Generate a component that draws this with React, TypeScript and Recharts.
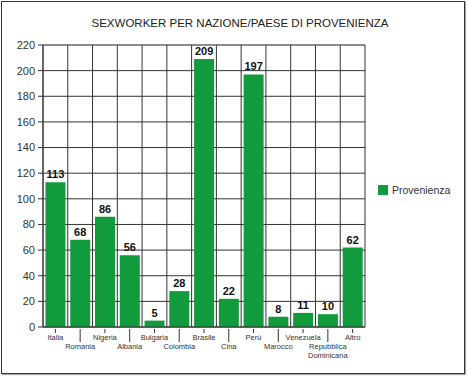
import React from "react";
import { BarChart, Bar, XAxis, YAxis, CartesianGrid, LabelList } from "recharts";

const categories = [
  "Italia", "Romania", "Nigeria", "Albania", "Bulgaria", "Colombia", "Brasile",
  "Cina", "Perù", "Marocco", "Venezuela", "Repubblica Dominicana", "Altro",
];
const provenienza = [113, 68, 86, 56, 5, 28, 209, 22, 197, 8, 11, 10, 62];
const majorTicks = [0, 20, 40, 60, 80, 100, 120, 140, 160, 180, 200, 220];
const minorTicks = [10, 30, 50, 70, 90, 110, 130, 150, 170, 190, 210];

const title = "SEXWORKER PER NAZIONE/PAESE DI PROVENIENZA";
const seriesName = "Provenienza";

const data = categories.map((c, i) => ({ name: c, value: provenienza[i] }));

const GREEN = "#119b3c";
const FONT = "'Liberation Sans', Arial, sans-serif";

const XTick = (props: any) => {
  const { x, y, payload, index } = props;
  const lower = index % 2 === 1;
  const lines = String(payload.value).split(" ");
  const lineLen = lower ? 13 : 4;
  const textY = lower ? y + 20 : y + 11;
  return (
    <g>
      <line x1={x} x2={x} y1={y} y2={y + lineLen} stroke="#333" strokeWidth={1} />
      <text x={x} y={textY} textAnchor="middle" fontSize={7.5} fill="#333" fontFamily={FONT}>
        {lines.map((l, k) => (
          <tspan key={k} x={x} dy={k === 0 ? 0 : 9}>{l}</tspan>
        ))}
      </text>
    </g>
  );
};

const verticalGen = ({ offset }: any) => {
  const n = categories.length;
  return Array.from({ length: n + 1 }, (_, i) => offset.left + (i * offset.width) / n);
};

export default function App() {
  return (
    <div style={{ position: "absolute", left: 0, top: 0, width: 467, height: 377, background: "#fff" }}>
      <div
        style={{
          position: "absolute",
          left: 1,
          top: 1,
          width: 462,
          height: 371,
          border: "1.5px solid #333",
          boxShadow: "1px 1px 1px #aaa",
        }}
      />
      <div style={{ position: "absolute", left: 0, top: 0 }}>
        <BarChart
          width={467}
          height={377}
          data={data}
          margin={{ top: 45, right: 102, bottom: 20, left: 0 }}
          barCategoryGap="10%"
        >
          <text x={240} y={27} textAnchor="middle" fontSize={11.5} fill="#222" fontFamily={FONT}>
            {title}
          </text>
          <YAxis yAxisId="minor" hide domain={[0, 220]} ticks={minorTicks} />
          <CartesianGrid yAxisId="minor" vertical={false} stroke="#d0d0d0" strokeWidth={1} />
          <CartesianGrid
            stroke="#333"
            strokeWidth={1}
            verticalCoordinatesGenerator={verticalGen}
          />
          <XAxis
            dataKey="name"
            interval={0}
            tickSize={0}
            tickLine={false}
            axisLine={{ stroke: "#333" }}
            height={30}
            tick={<XTick />}
          />
          <YAxis
            domain={[0, 220]}
            ticks={majorTicks}
            width={43}
            tickSize={5}
            tickMargin={3}
            axisLine={{ stroke: "#333" }}
            tickLine={{ stroke: "#333" }}
            tick={{ fontSize: 11, fill: "#333", fontFamily: FONT }}
          />
          <Bar dataKey="value" name={seriesName} fill={GREEN} isAnimationActive={false}>
            <LabelList
              dataKey="value"
              position="top"
              offset={4}
              style={{ fontSize: 11, fontWeight: "bold", fill: "#111", fontFamily: FONT }}
            />
          </Bar>
          <rect x={378} y={185} width={10} height={10} fill={GREEN} />
          <text x={392} y={194} fontSize={10.5} fill="#333" fontFamily={FONT}>
            {seriesName}
          </text>
        </BarChart>
      </div>
    </div>
  );
}
